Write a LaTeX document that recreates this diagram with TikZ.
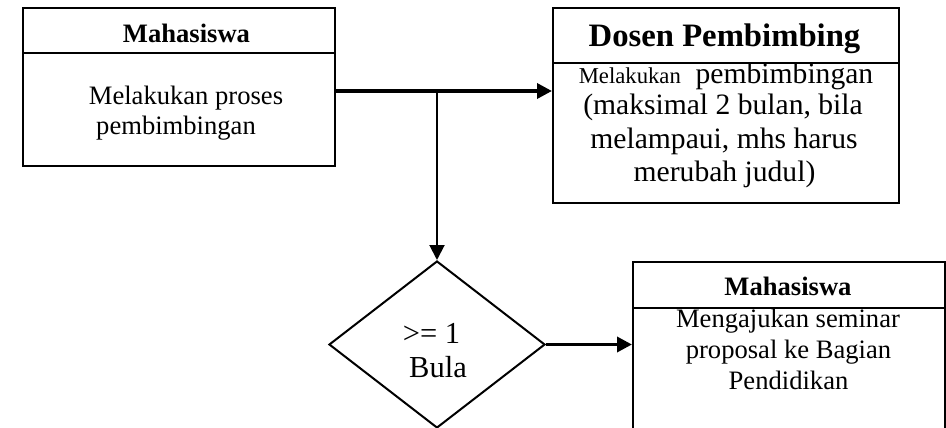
\documentclass[tikz,border=0pt]{standalone}
\usepackage{fontspec}
\setmainfont{Liberation Serif}
\usetikzlibrary{arrows.meta,shapes.geometric}
\begin{document}
\begin{tikzpicture}[x=1pt,y=-1pt,
  frame/.style={draw,line width=2pt,rectangle,inner sep=0pt,anchor=north west},
  txt/.style={anchor=base,inner sep=0pt,font=\fontsize{26.6}{31}\selectfont},
  head/.style={txt,font=\fontsize{26.6}{31}\selectfont\bfseries},
  flow/.style={line width=3.5pt,-{Triangle[length=15pt,width=15pt]}},
  thinflow/.style={line width=2pt,-{Triangle[length=15pt,width=15pt]}}]
\useasboundingbox (0,0) rectangle (946,428);

% Mahasiswa (proses pembimbingan)
\node[frame,minimum width=312pt,minimum height=45pt] (h1) at (22,7) {};
\node[frame,minimum width=312pt,minimum height=113pt] (b1) at (22,52) {};
\node[head] (h1t) at (186.5,43) {Mahasiswa};
\node[txt] (b1l1) at (186,104) {Melakukan proses};
\node[txt] (b1l2) at (176,135) {pembimbingan};

% Dosen Pembimbing
\node[frame,minimum width=346pt,minimum height=55pt] (h2) at (552,7) {};
\node[frame,minimum width=346pt,minimum height=140pt] (b2) at (552,62) {};
\node[head,font=\fontsize{32.7}{36}\selectfont\bfseries] (h2t) at (724.5,47) {Dosen Pembimbing};
\node[txt,font=\fontsize{29.6}{34}\selectfont] (b2l1) at (726,84) {{\fontsize{22.7}{26}\selectfont Melakukan}\ \ pembimbingan};
\node[txt,font=\fontsize{29.6}{34}\selectfont] (b2l2) at (723,114) {(maksimal 2 bulan, bila};
\node[txt,font=\fontsize{29.6}{34}\selectfont] (b2l3) at (724,148) {melampaui, mhs harus};
\node[txt,font=\fontsize{29.6}{34}\selectfont] (b2l4) at (724.5,181) {merubah judul)};

% Decision
\node[draw,diamond,line width=2pt,inner sep=0pt,minimum width=216pt,minimum height=167pt] (dec) at (437,344.5) {};
\node[txt,font=\fontsize{30.5}{34}\selectfont] (dt1) at (431.5,343) {>= 1};
\node[txt,font=\fontsize{30.5}{34}\selectfont] (dt2) at (438,377) {Bula};

% Mahasiswa (seminar proposal)
\node[frame,minimum width=312pt,minimum height=46pt] (h3) at (632,261) {};
\node[frame,minimum width=312pt,minimum height=200pt] (b3) at (632,307) {};
\node[head] (h3t) at (788,295) {Mahasiswa};
\node[txt] (b3l1) at (788,327) {Mengajukan seminar};
\node[txt] (b3l2) at (788.5,358) {proposal ke Bagian};
\node[txt] (b3l3) at (788.5,389) {Pendidikan};

% Connectors
\coordinate (j) at (437,91);
\draw[flow] (j -| b1.east) -- (j -| b2.west);
\draw[thinflow] (j) -- (dec.north);
\draw[flow] (dec.east) -- (dec.east -| b3.west);
\end{tikzpicture}
\end{document}
